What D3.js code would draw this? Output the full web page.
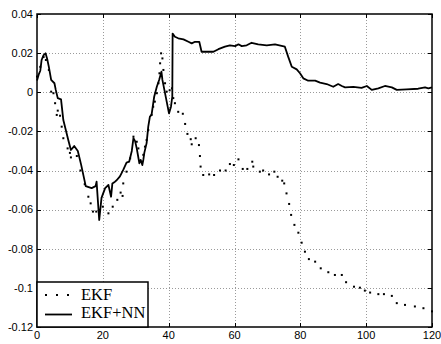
<!DOCTYPE html>
<html>
<head>
<meta charset="utf-8">
<script src="https://cdn.jsdelivr.net/npm/d3@7"></script>
<style>
  body { margin: 0; background: #fff; }
  svg { display: block; }
</style>
</head>
<body>
<div id="chart"></div>
<script>
// EKF estimate (dotted)
var ekfT = [0, 1, 2, 2.7, 3.6, 4.3, 5.0, 5.5, 6.0, 6.3, 7.0, 7.5, 8.0, 9.3, 10.0, 10.3, 12.1, 13.2, 14.5,
  15.6, 16.3, 17.0, 18.0, 20.0, 21.7, 23.0, 24.4, 25.4, 26.0, 26.2, 27.2, 28.3, 29.3, 30.3, 30.8,
  31.8, 32.3, 32.8, 33.3, 33.8, 34.8, 35.3, 35.8, 36.4, 36.9, 37.2, 37.4, 37.7, 38.1, 38.4, 38.9,
  39.4, 40.3, 41.0, 41.4, 41.9, 42.9, 44.3, 45.0, 45.7, 46.7, 47.0, 48.2, 49.2, 49.5, 49.7, 50.5,
  52.3, 53.8, 55.6, 57.3, 58.6, 59.8, 61.2, 62.5, 63.9, 65.4, 65.7, 67.7, 68.7, 70.5, 72.1, 73.1,
  74.5, 75.1, 75.8, 76.6, 77.2, 78.2, 79.4, 80.4, 81.4, 82.6, 84.5, 86.2, 88.5, 90.5, 92.6, 93.9,
  96.3, 98.1, 99.6, 101.2, 103.7, 105.4, 107.8, 109.3, 111.8, 114.8, 117.4, 120];
var ekfY = [0.008, 0.013, 0.018, 0.0165, 0.0114, 0.0003, -0.0005, -0.0056, -0.0116, -0.0094, -0.012,
  -0.0176, -0.0235, -0.0287, -0.031, -0.0333, -0.0326, -0.040, -0.047, -0.0534, -0.0568, -0.061,
  -0.061, -0.0585, -0.0619, -0.0585, -0.055, -0.0513, -0.053, -0.0466, -0.0406, -0.0338, -0.0227,
  -0.0253, -0.0287, -0.0355, -0.032, -0.0278, -0.0244, -0.0193, -0.0116, -0.0074, -0.0048, -0.0005,
  0.0046, 0.0097, 0.0148, 0.0199, 0.0173, 0.0114, 0.0046, 0.0003, 0.001, 0.002, -0.003, -0.0056,
  -0.01, -0.011, -0.0162, -0.0213, -0.024, -0.0266, -0.0235, -0.027, -0.0326, -0.038, -0.0423,
  -0.042, -0.0423, -0.040, -0.040, -0.0367, -0.0372, -0.0343, -0.0392, -0.0392, -0.0355, -0.038,
  -0.0406, -0.040, -0.042, -0.0406, -0.0432, -0.0452, -0.0466, -0.0517, -0.0571, -0.0627, -0.0678,
  -0.0718, -0.0769, -0.0815, -0.0853, -0.0866, -0.090, -0.092, -0.0934, -0.0934, -0.0971, -0.0994,
  -0.0999, -0.1014, -0.1024, -0.1032, -0.1032, -0.1041, -0.1078, -0.1087, -0.1095, -0.1104, -0.112];

// EKF+NN estimate (solid)
var nnT = [0, 0.5, 1, 1.4, 2, 2.6, 3.1, 3.6, 4.3, 5.3, 5.7, 6.3, 7.3, 8.0, 9.5, 10.3, 11.3, 12.4, 13.4,
  14.4, 14.8, 16.6, 17.8, 18.1, 18.6, 18.9, 19.6, 20.7, 21.7, 22.5, 22.9, 23.7, 24.2, 25.2, 26.2,
  27.2, 28.0, 28.8, 29.3, 29.8, 30.3, 31.1, 31.5, 32.0, 32.3, 32.6, 33.3, 33.8, 34.3, 34.8, 35.6,
  36.4, 37.1, 37.8, 38.1, 38.7, 39.4, 40.1, 40.7, 41.1, 41.2, 41.9, 42.9, 44.5, 46.0, 47.0, 48.0,
  49.3, 50.0, 51.6, 53.6, 55.1, 57.1, 58.6, 60.2, 61.2, 62.2, 63.7, 65.2, 67.2, 69.8, 72.3, 75.3,
  76.3, 77.4, 78.9, 79.9, 80.9, 82.4, 84.5, 86.0, 88.0, 90.0, 91.5, 92.6, 93.6, 96.1, 98.6, 100.2,
  101.7, 103.7, 105.7, 107.8, 109.3, 112.3, 115.8, 117.9, 118.9, 120];
var nnY = [0.006, 0.009, 0.011, 0.0165, 0.019, 0.0199, 0.017, 0.013, 0.0063, 0.0046, 0.0012, -0.003,
  -0.0036, -0.0142, -0.0244, -0.0295, -0.0275, -0.030, -0.037, -0.0448, -0.048, -0.049, -0.048,
  -0.0457, -0.058, -0.0653, -0.054, -0.049, -0.0474, -0.0534, -0.0466, -0.0457, -0.045, -0.043,
  -0.0397, -0.036, -0.0355, -0.030, -0.0235, -0.025, -0.0287, -0.0363, -0.0346, -0.0372, -0.0346,
  -0.031, -0.026, -0.0176, -0.0125, -0.0116, -0.0023, 0.0028, 0.0063, 0.0105, 0.0063, 0.0012,
  -0.0048, -0.0108, -0.0074, -0.0023, 0.030, 0.0284, 0.0276, 0.027, 0.0258, 0.025, 0.0258, 0.0258,
  0.0207, 0.0207, 0.0207, 0.022, 0.0233, 0.024, 0.0236, 0.0245, 0.0236, 0.024, 0.0253, 0.0245,
  0.024, 0.0245, 0.0233, 0.0182, 0.013, 0.0117, 0.0097, 0.0071, 0.0059, 0.0059, 0.0049, 0.0042,
  0.0028, 0.0042, 0.0032, 0.0025, 0.0028, 0.0022, 0.0032, 0.0012, 0.002, 0.0032, 0.0025, 0.0012,
  0.0015, 0.0018, 0.0025, 0.002, 0.0025];

var xTicks = [0, 20, 40, 60, 80, 100, 120];
var yTicks = [0.04, 0.02, 0, -0.02, -0.04, -0.06, -0.08, -0.1, -0.12];
var yTickLabels = ["0.04", "0.02", "0", "-0.02", "-0.04", "-0.06", "-0.08", "-0.1", "-0.12"];
var legendNames = ["EKF", "EKF+NN"];

document.addEventListener('DOMContentLoaded', function () {
  drawChart();
});

function drawChart() {
  var width = 441, height = 344;
  var left = 37, right = 432, top = 14, bottom = 327;

  var svg = d3.select('#chart').append('svg')
    .attr('width', width)
    .attr('height', height);

  var x = d3.scaleLinear().domain([0, 120]).range([left, right]);
  var y = d3.scaleLinear().domain([-0.12, 0.04]).range([bottom, top]);

  // grid
  var grid = svg.append('g')
    .attr('stroke', '#9a9a9a')
    .attr('stroke-width', 1)
    .attr('stroke-dasharray', '1,2');
  grid.selectAll('line.gx')
    .data(xTicks.slice(1, -1))
    .enter().append('line')
    .attr('x1', function(d) { return Math.round(x(d)) + 0.5; })
    .attr('x2', function(d) { return Math.round(x(d)) + 0.5; })
    .attr('y1', top).attr('y2', bottom);
  grid.selectAll('line.gy')
    .data(yTicks.slice(1, -1))
    .enter().append('line')
    .attr('y1', function(d) { return Math.round(y(d)) + 0.5; })
    .attr('y2', function(d) { return Math.round(y(d)) + 0.5; })
    .attr('x1', left).attr('x2', right);

  // ticks (inward, all four sides)
  var tk = svg.append('g').attr('stroke', '#000').attr('stroke-width', 1);
  xTicks.forEach(function(d) {
    var px = Math.round(x(d)) + 0.5;
    tk.append('line').attr('x1', px).attr('x2', px).attr('y1', bottom).attr('y2', bottom - 4);
    tk.append('line').attr('x1', px).attr('x2', px).attr('y1', top).attr('y2', top + 4);
  });
  yTicks.forEach(function(d) {
    var py = Math.round(y(d)) + 0.5;
    tk.append('line').attr('y1', py).attr('y2', py).attr('x1', left).attr('x2', left + 4);
    tk.append('line').attr('y1', py).attr('y2', py).attr('x1', right).attr('x2', right - 4);
  });

  // EKF as dotted points
  svg.append('g').selectAll('rect')
    .data(d3.zip(ekfT, ekfY))
    .enter().append('rect')
    .attr('x', function(d) { return x(d[0]) - 1; })
    .attr('y', function(d) { return y(d[1]) - 1; })
    .attr('width', 2)
    .attr('height', 2)
    .attr('fill', '#000');

  // EKF+NN solid line
  var line = d3.line()
    .x(function(d) { return x(d[0]); })
    .y(function(d) { return y(d[1]); });
  svg.append('path')
    .datum(d3.zip(nnT, nnY))
    .attr('d', line)
    .attr('fill', 'none')
    .attr('stroke', '#000')
    .attr('stroke-width', 1.8)
    .attr('stroke-linejoin', 'round');

  // axes box
  svg.append('rect')
    .attr('x', left).attr('y', top)
    .attr('width', right - left).attr('height', bottom - top)
    .attr('fill', 'none')
    .attr('stroke', '#000')
    .attr('stroke-width', 1.5);

  // tick labels
  svg.selectAll('text.xl')
    .data(xTicks)
    .enter().append('text')
    .attr('x', function(d) { return x(d); })
    .attr('y', 339)
    .attr('text-anchor', 'middle')
    .style('font-family', 'Liberation Sans, Arial, sans-serif')
    .style('font-size', '11px')
    .text(function(d) { return d; });

  svg.selectAll('text.yl')
    .data(yTicks)
    .enter().append('text')
    .attr('x', 33)
    .attr('y', function(d) { return y(d); })
    .attr('dy', '0.35em')
    .attr('text-anchor', 'end')
    .style('font-family', 'Liberation Sans, Arial, sans-serif')
    .style('font-size', '11px')
    .text(function(d, i) { return yTickLabels[i]; });

  // legend
  var lg = svg.append('g');
  lg.append('rect')
    .attr('x', left).attr('y', 282)
    .attr('width', 111).attr('height', bottom - 282)
    .attr('fill', '#fff')
    .attr('stroke', '#000')
    .attr('stroke-width', 1.5);
  lg.append('line')
    .attr('x1', 45).attr('x2', 72).attr('y1', 295).attr('y2', 295)
    .attr('stroke', '#000').attr('stroke-width', 2)
    .attr('stroke-dasharray', '2,9');
  lg.append('line')
    .attr('x1', 45).attr('x2', 72).attr('y1', 314.5).attr('y2', 314.5)
    .attr('stroke', '#000').attr('stroke-width', 1.8);
  lg.selectAll('text')
    .data(legendNames)
    .enter().append('text')
    .attr('x', 81)
    .attr('y', function(d, i) { return 300 + i * 18; })
    .style('font-family', 'Liberation Serif, Times New Roman, serif')
    .style('font-size', '16.5px')
    .text(function(d) { return d; });
}
</script>
</body>
</html>
